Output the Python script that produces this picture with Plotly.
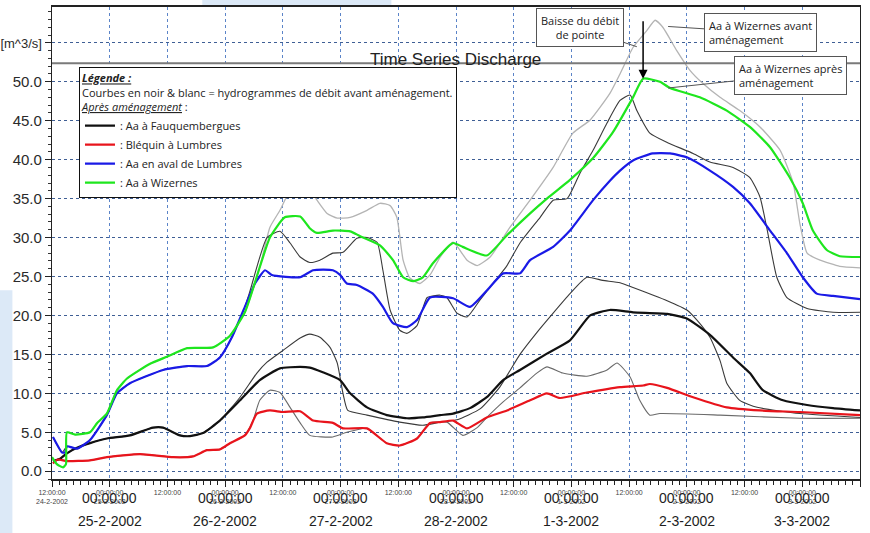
import pandas as pd
import plotly.graph_objects as go

BASE = pd.Timestamp("2002-02-24 12:00")

# ---------------- data (hours since 24-2-2002 12:00, discharge m3/s) ----------------
green_h = [0, 1.0, 2.3, 2.9, 3.1, 4.8, 7.9, 9.4, 11.4, 13.5, 15.6, 20.4, 23.9, 28.1, 33.5, 37.0, 40.1, 43.2, 45.3, 48.4,
           51.6, 53.6, 55.1, 58.4, 62.0, 64.0, 68.2, 70.9, 73.0, 75.1, 77.1, 79.2, 83.4, 85.4, 90.4, 94.6, 99.4, 102.9,
           107.7, 112.5, 116.6, 120.8, 122.9, 126.4, 128.5, 134.7, 140.3, 145.1, 149.3, 153.4, 156.1, 158.2, 161.1,
           163.8, 168]
green_v = [1.8, 0.9, 0.5, 0.9, 5.0, 4.7, 5.0, 6.2, 7.4, 10.4, 11.9, 13.8, 14.7, 15.8, 15.9, 17.4, 20.4, 26.2, 30.0, 32.6,
           32.7, 31.2, 30.6, 30.9, 30.8, 30.2, 29.0, 27.1, 24.9, 24.4, 24.9, 26.7, 29.3, 28.8, 27.7, 30.3, 33.1, 35.0,
           37.4, 40.2, 43.5, 48.0, 50.4, 50.0, 49.2, 48.0, 46.3, 44.2, 41.6, 37.7, 34.4, 30.9, 28.4, 27.6, 27.5]

blue_h = [0.2, 2.1, 2.7, 3.1, 5.2, 7.9, 11.4, 13.5, 16.2, 23.1, 28.1, 32.2, 34.9, 37.4, 40.1, 42.2, 44.3, 45.7, 51.6,
          54.3, 58.4, 59.9, 61.3, 63.4, 66.7, 68.8, 70.9, 73.8, 75.9, 78.6, 83.4, 86.9, 90.4, 93.8, 97.3, 99.4, 104.2,
          107.7, 112.5, 116.0, 118.1, 120.8, 124.9, 128.5, 132.0, 136.8, 141.6, 145.1, 149.3, 152.8, 156.1, 159.0,
          162.4, 168]
blue_v = [4.4, 2.4, 2.4, 3.2, 2.9, 4.0, 7.2, 10.0, 11.3, 13.0, 13.5, 13.5, 14.6, 17.2, 21.1, 24.1, 25.8, 25.2, 24.9,
          25.8, 25.8, 25.2, 24.1, 23.9, 22.8, 21.1, 19.0, 18.5, 19.4, 22.3, 22.2, 21.1, 23.2, 25.4, 25.4, 27.1, 28.8,
          30.9, 34.8, 37.3, 38.6, 39.9, 40.8, 40.8, 40.3, 38.6, 36.5, 34.4, 30.9, 28.0, 24.9, 22.8, 22.5, 22.1]

black_h = [0.2, 1.7, 3.1, 5.2, 7.9, 11.4, 16.2, 21.0, 23.1, 26.6, 28.7, 31.4, 34.9, 39.1, 43.2, 47.4, 51.6, 53.6, 56.3,
           59.9, 62.0, 65.5, 69.6, 73.8, 77.1, 80.7, 83.4, 86.9, 90.4, 93.8, 97.3, 102.9, 107.7, 111.9, 116.0, 120.8,
           127.9, 132.0, 136.8, 141.6, 145.1, 147.8, 152.0, 157.0, 162.4, 168]
black_v = [1.3, 1.6, 2.3, 3.0, 3.6, 4.2, 4.6, 5.6, 5.6, 4.6, 4.5, 4.9, 6.5, 9.1, 11.7, 13.2, 13.4, 13.3, 12.7,
           11.7, 10.0, 8.2, 7.2, 6.8, 6.9, 7.2, 7.4, 8.1, 9.5, 11.7, 13.0, 15.1, 16.8, 20.0, 20.7, 20.4,
           20.2, 19.6, 17.5, 14.6, 12.6, 10.4, 9.1, 8.5, 8.1, 7.8]

red_h = [0.2, 1.2, 3.1, 7.9, 11.4, 18.3, 25.2, 29.3, 32.2, 34.9, 37.0, 40.1, 41.2, 42.6, 45.3, 48.0, 51.6, 54.3, 58.4,
         60.5, 65.5, 69.6, 72.3, 75.9, 78.6, 80.7, 83.4, 86.3, 90.4, 94.6, 99.4, 102.9, 105.6, 111.2, 118.1, 122.9,
         124.3, 127.9, 133.3, 140.3, 147.2, 155.5, 168]
red_v = [1.0, 1.5, 1.3, 1.4, 1.8, 2.2, 1.8, 1.9, 2.7, 2.8, 3.6, 4.6, 5.6, 7.4, 7.8, 7.6, 7.7, 6.5, 6.2,
         5.5, 5.5, 3.6, 3.3, 4.2, 6.2, 6.3, 6.5, 5.5, 6.9, 7.8, 9.1, 10.0, 9.4, 10.1, 10.8, 11.0,
         11.2, 10.7, 9.5, 8.2, 7.8, 7.6, 7.2]

# "avant aménagement" (before) hydrographs
lumbres_before_h = [0.2, 2.1, 3.1, 5.2, 7.9, 11.4, 13.5, 16.2, 23.1, 28.1, 32.2, 34.9, 37.4, 40.1, 41.2, 44.7, 47.4,
                    49.5, 51.6, 53.6, 55.7, 58.4, 60.5, 63.4, 65.5, 67.6, 68.8, 70.3, 72.3, 73.8, 75.9, 78.0, 80.7,
                    82.1, 84.2, 86.3, 89.0, 91.7, 94.6, 97.3, 101.5, 104.2, 107.1, 109.8, 112.5, 115.4, 118.1, 120.2,
                    121.6, 124.3, 127.9, 133.3, 136.8, 141.6, 145.1, 147.2, 148.6, 150.7, 152.8, 157.0, 162.4, 168]
lumbres_before_v = [4.4, 2.4, 3.2, 2.9, 4.0, 7.2, 10.0, 11.3, 13.0, 13.5, 13.5, 14.6, 17.2, 21.1, 23.2, 30.0, 30.8,
                    29.3, 27.5, 26.8, 27.1, 28.0, 28.1, 29.9, 30.0, 29.4, 25.8, 20.7, 18.1, 17.7, 18.7, 22.3, 22.6,
                    22.3, 20.3, 19.8, 22.0, 24.1, 26.4, 29.3, 32.6, 34.8, 35.0, 38.3, 41.2, 44.7, 47.6, 48.3,
                    46.3, 43.4, 42.2, 40.8, 39.7, 39.0, 37.7, 35.2, 31.3, 24.9, 22.3, 20.9, 20.4, 20.4]

wizernes_before_h = [0, 1.0, 2.3, 2.9, 3.1, 4.8, 7.9, 9.4, 11.4, 13.5, 15.6, 20.4, 23.9, 28.1, 33.5, 37.0, 40.1, 43.2,
                     45.3, 47.4, 49.5, 51.6, 53.0, 55.1, 57.2, 59.3, 62.0, 65.5, 68.2, 70.3, 71.7, 73.0, 74.4, 76.5,
                     78.6, 80.7, 83.4, 86.3, 88.4, 91.1, 95.2, 99.4, 104.2, 108.3, 111.9, 116.0, 118.1, 120.8, 123.7,
                     125.4, 127.0, 129.9, 132.6, 135.3, 138.9, 143.0, 147.2, 151.4, 154.1, 155.5, 157.0, 159.7, 163.8,
                     168]
wizernes_before_v = [1.8, 0.9, 0.5, 0.9, 5.0, 4.7, 5.0, 6.2, 7.4, 10.4, 11.9, 13.8, 14.7, 15.8, 15.9, 17.4, 20.4, 26.2,
                     31.3, 33.5, 36.1, 37.2, 36.7, 34.8, 33.1, 32.5, 32.6, 33.5, 34.4, 34.1, 32.6, 27.1, 24.8, 24.1,
                     25.2, 27.5, 29.4, 27.1, 26.4, 27.5, 31.3, 34.8, 39.0, 43.4, 45.1, 48.5, 51.0, 54.4, 56.6,
                     57.9, 57.0, 54.0, 51.5, 49.8, 48.0, 46.3, 44.2, 41.2, 37.0, 31.8, 28.0, 27.1, 26.3,
                     26.1]

fauq_before_h = [0.2, 1.7, 3.1, 5.2, 7.9, 11.4, 16.2, 21.0, 23.1, 26.6, 28.7, 31.4, 34.9, 39.1, 42.6, 44.7, 48.0, 51.6,
                 53.6, 55.7, 57.8, 59.3, 60.5, 61.5, 65.5, 72.3, 77.1, 80.7, 84.2, 89.0, 93.1, 97.3, 100.8, 104.2,
                 107.7, 111.2, 114.5, 118.1, 120.8, 127.9, 132.0, 134.1, 136.8, 138.9, 140.3, 143.0, 146.6, 155.5, 168]
fauq_before_v = [1.3, 1.6, 2.3, 3.0, 3.6, 4.2, 4.6, 5.6, 5.6, 4.6, 4.5, 4.9, 6.5, 9.5, 12.6, 14.0, 15.5, 17.1,
                 17.6, 17.2, 15.9, 13.9, 10.0, 7.8, 7.2, 6.3, 5.9, 6.3, 6.6, 8.0, 10.8, 15.0, 17.8, 20.3,
                 22.8, 24.9, 24.5, 24.2, 23.6, 21.9, 20.7, 19.4, 17.2, 14.2, 11.3, 9.1, 8.2, 7.4, 6.9]

blequin_before_h = [0.2, 1.2, 3.1, 7.9, 11.4, 18.3, 25.2, 29.3, 32.2, 34.9, 37.0, 40.1, 41.8, 43.2, 45.3, 47.4, 49.5,
                    51.6, 53.6, 58.4, 61.3, 65.5, 69.6, 72.3, 75.9, 78.6, 82.1, 85.4, 88.4, 90.4, 93.8, 97.3, 100.8,
                    102.9, 106.2, 111.2, 115.4, 117.5, 120.2, 122.2, 124.3, 126.4, 138.9, 155.5, 168]
blequin_before_v = [1.0, 1.5, 1.3, 1.4, 1.8, 2.2, 1.8, 1.9, 2.7, 2.8, 3.6, 4.6, 6.5, 9.1, 10.4, 10.1, 8.2,
                    6.2, 4.6, 4.4, 5.0, 5.5, 3.6, 3.3, 4.2, 6.2, 6.3, 4.6, 5.6, 6.9, 8.9, 10.7, 12.6,
                    13.4, 12.6, 12.2, 13.0, 13.9, 12.1, 9.1, 7.2, 7.4, 7.2, 6.8, 6.8]

after_names = [": Aa à Fauquembergues", ": Bléquin à Lumbres", ": Aa en aval de Lumbres", ": Aa à Wizernes"]
after_colors = ["#111111", "#e8141c", "#1a1ae6", "#1ee61e"]

y_tickvals = [0, 5, 10, 15, 20, 25, 30, 35, 40, 45, 50, 55]
y_ticktext = ["0.0", "5.0", "10.0", "15.0", "20.0", "25.0", "30.0", "35.0", "40.0", "45.0", "50.0",
              "<span style='font-size:13px'>[m^3/s]</span>"]
day_labels = ["25-2-2002", "26-2-2002", "27-2-2002", "28-2-2002", "1-3-2002", "2-3-2002", "3-3-2002"]


def t(hours):
    return BASE + pd.to_timedelta(pd.Series(hours, dtype=float), unit="h")


ARIAL = "Liberation Sans, Arial, sans-serif"
TXT = "Open Sans, Noto Sans, DejaVu Sans, sans-serif"

fig = go.Figure()

# before (thin) curves
for h, v, col, w in [
    (wizernes_before_h, wizernes_before_v, "#b4b4b4", 1.3),
    (lumbres_before_h, lumbres_before_v, "#3a3a3a", 1.1),
    (fauq_before_h, fauq_before_v, "#3a3a3a", 1.1),
    (blequin_before_h, blequin_before_v, "#6a6a6a", 1.1),
]:
    fig.add_trace(go.Scatter(x=t(h), y=v, mode="lines", line=dict(color=col, width=w, shape="spline", smoothing=0.5),
                             showlegend=False, hoverinfo="skip"))

# after (colored) curves
for h, v, name, col in [
    (black_h, black_v, after_names[0], after_colors[0]),
    (red_h, red_v, after_names[1], after_colors[1]),
    (blue_h, blue_v, after_names[2], after_colors[2]),
    (green_h, green_v, after_names[3], after_colors[3]),
]:
    fig.add_trace(go.Scatter(x=t(h), y=v, mode="lines", name=name,
                             line=dict(color=col, width=2.2, shape="spline", smoothing=0.5)))

# x ticks every 12 h
tick_times = [BASE + pd.Timedelta(hours=12 * i) for i in range(15)]
tick_text = []
for i, tt in enumerate(tick_times):
    if tt.hour == 12:
        tick_text.append("12:00:00<br>24-2-2002" if i == 0 else "12:00:00")
    else:
        tick_text.append("00:00:00<br>" + f"{tt.day}-{tt.month}-{tt.year}")

midnights = [tt for tt in tick_times if tt.hour == 0]
for tt, lab in zip(midnights, day_labels):
    fig.add_annotation(x=tt, y=0, xref="x", yref="paper", text="00:00:00", showarrow=False,
                       yanchor="middle", yshift=-19, font=dict(family=ARIAL, size=14, color="#1e1e1e"))
    fig.add_annotation(x=tt, y=0, xref="x", yref="paper", text=lab, showarrow=False,
                       yanchor="middle", yshift=-42, font=dict(family=ARIAL, size=14, color="#1e1e1e"))

fig.update_xaxes(
    type="date", range=[BASE, BASE + pd.Timedelta(hours=168)], automargin=False,
    tickvals=tick_times, ticktext=tick_text, tickangle=0,
    tickfont=dict(family=ARIAL, size=7, color="#444"),
    ticks="outside", ticklen=6, tickcolor="#222",
    minor=dict(dtick=5400000, tick0=BASE, ticks="outside", ticklen=4, tickcolor="#222", showgrid=False),
    showgrid=True, gridcolor="#5b84c8", griddash="dot", gridwidth=1,
    showline=True, linecolor="#222", linewidth=1.5, mirror=True, zeroline=False,
)
fig.update_yaxes(
    range=[-1.0, 59.6], tickvals=y_tickvals, ticktext=y_ticktext, automargin=False,
    tickfont=dict(family=ARIAL, size=15, color="#2a2a2a"),
    ticks="outside", ticklen=6, tickcolor="#222",
    minor=dict(dtick=1, ticks="outside", ticklen=3, tickcolor="#333", showgrid=False),
    showgrid=True, gridcolor="#3f5f95", griddash="dot", gridwidth=1,
    showline=True, linecolor="#222", linewidth=1.2, mirror=True, zeroline=False,
)

# title band separator
fig.add_shape(type="line", xref="paper", yref="paper", x0=0, x1=1, y0=0.881, y1=0.881,
              line=dict(color="#7a7a7a", width=2))
fig.add_annotation(xref="paper", yref="paper", x=0.499, y=0.913, text="Time Series Discharge",
                   showarrow=False, font=dict(family=ARIAL, size=17, color="#222"))

# scan artefacts (light blue edges)
fig.add_shape(type="rect", xref="paper", yref="paper", x0=-0.07, x1=-0.049, y0=-0.2, y1=0.4,
              fillcolor="#dce9f7", line_width=0, layer="below")
fig.add_shape(type="rect", xref="paper", yref="paper", x0=0.186, x1=0.42, y0=1.003, y1=1.03,
              fillcolor="#dce9f7", line_width=0, layer="below")

# callouts
box = dict(bgcolor="white", bordercolor="#555", borderwidth=1, borderpad=4,
           font=dict(family=TXT, size=11, color="#222"))
fig.add_annotation(x=BASE + pd.Timedelta(hours=121.6), y=54.5, text="Baisse du débit<br>de pointe",
                   showarrow=True, arrowhead=0, arrowcolor="#555", arrowwidth=1, ax=-57, ay=-19, align="center", **box)
fig.add_annotation(x=BASE + pd.Timedelta(hours=128.1), y=57.1, text="Aa à Wizernes avant<br>aménagement",
                   showarrow=True, arrowhead=0, arrowcolor="#555", arrowwidth=1, ax=92, ay=6, align="left", **box)
fig.add_annotation(x=BASE + pd.Timedelta(hours=128.1), y=49.2, text="Aa à Wizernes après<br>aménagement",
                   showarrow=True, arrowhead=0, arrowcolor="#555", arrowwidth=1, ax=122, ay=-13, align="left", **box)
fig.add_annotation(x=BASE + pd.Timedelta(hours=122.9), y=50.4, text="", showarrow=True, arrowhead=2,
                   arrowsize=1.2, arrowwidth=1.5, arrowcolor="black", ax=0, ay=-59)

fig.update_layout(
    width=870, height=533,
    margin=dict(l=52, r=10, t=7, b=54),
    paper_bgcolor="white", plot_bgcolor="white",
    showlegend=True,
    legend=dict(
        x=0.0334, y=0.8726, xanchor="left", yanchor="top",
        bgcolor="white", bordercolor="#111", borderwidth=1,
        font=dict(family=TXT, size=11, color="#222"),
        title=dict(text="<b><i><u>Légende :</u></i></b><br>Courbes en noir & blanc = hydrogrammes de débit avant aménagement.<br><i><u>Après aménagement</u></i> :",
                   font=dict(family=TXT, size=11, color="#222"), side="top"),
        tracegroupgap=0,
    ),
)

fig.write_html("out.html", config={"displayModeBar": False},
               post_script="document.body.style.margin='0px';document.body.style.overflow='hidden';")
